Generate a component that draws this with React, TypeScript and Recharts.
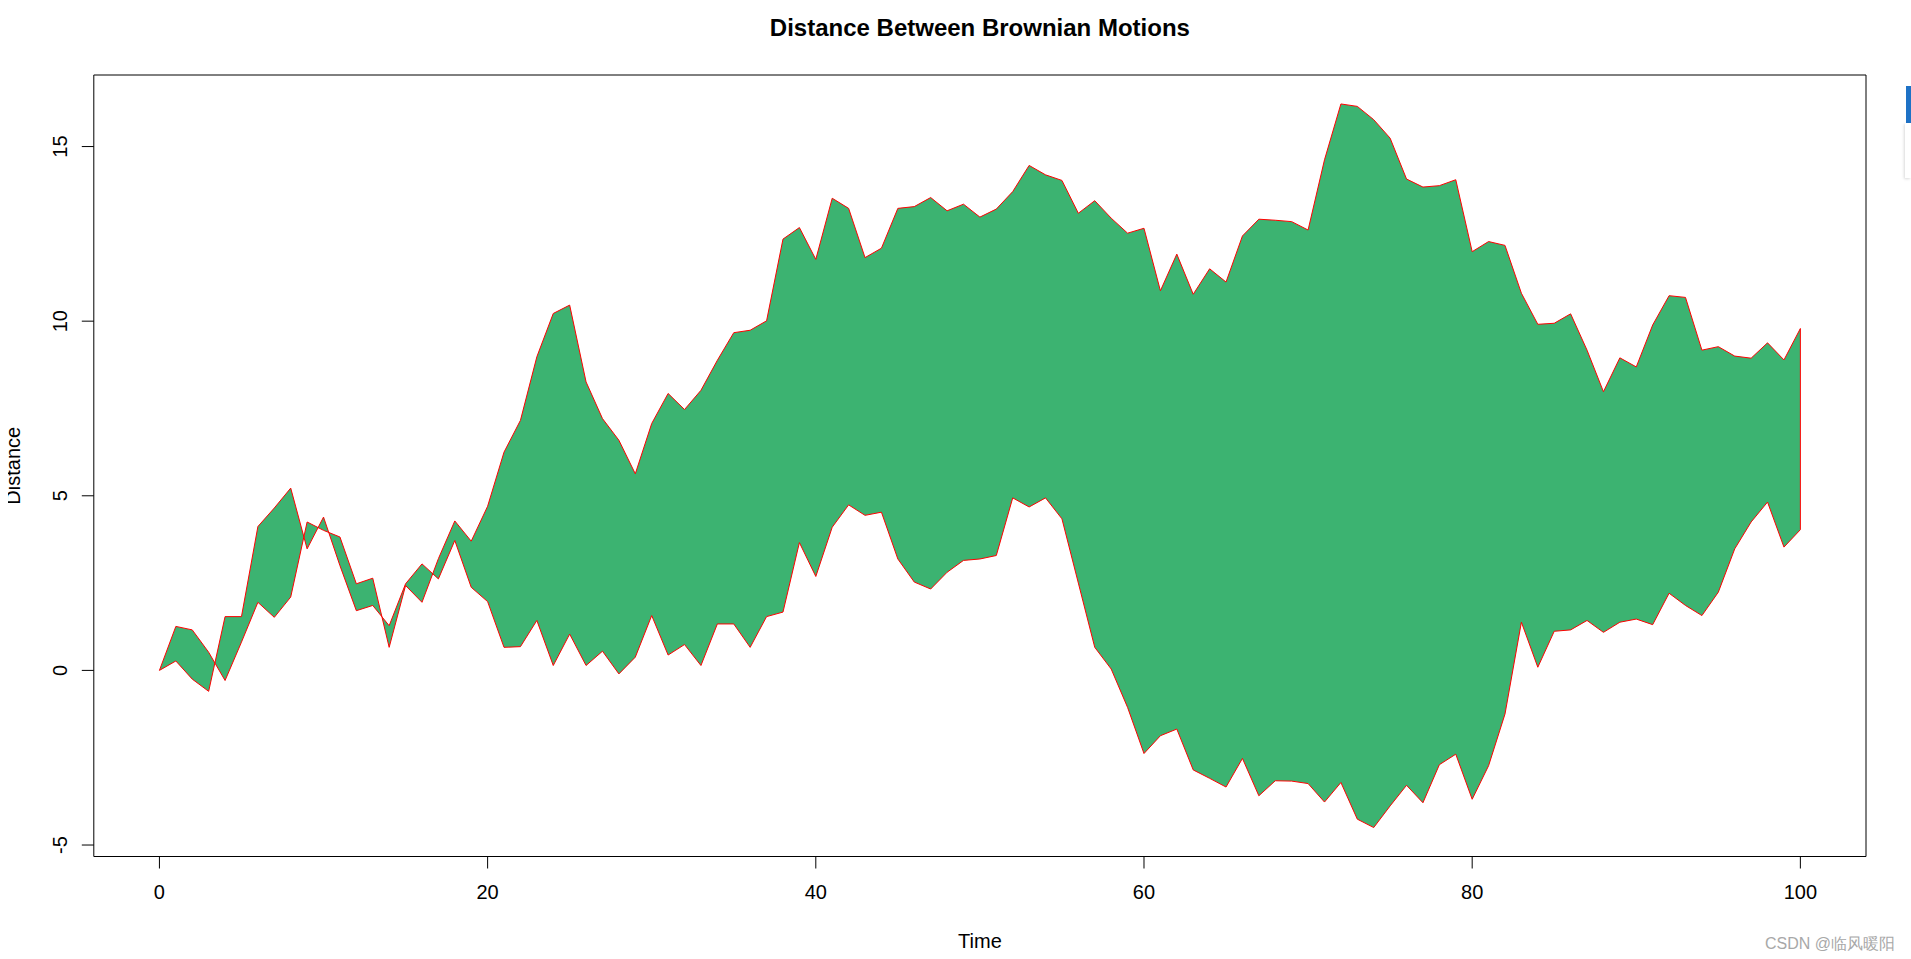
import { ComposedChart, Area, XAxis, YAxis, ReferenceArea, ReferenceLine } from "recharts"

const time = [
  0, 1, 2, 3, 4, 5, 6, 7, 8, 9, 10, 11, 12, 13, 14, 15, 16, 17, 18, 19, 20,
  21, 22, 23, 24, 25, 26, 27, 28, 29, 30, 31, 32, 33, 34, 35, 36, 37, 38, 39, 40,
  41, 42, 43, 44, 45, 46, 47, 48, 49, 50, 51, 52, 53, 54, 55, 56, 57, 58, 59, 60,
  61, 62, 63, 64, 65, 66, 67, 68, 69, 70, 71, 72, 73, 74, 75, 76, 77, 78, 79, 80,
  81, 82, 83, 84, 85, 86, 87, 88, 89, 90, 91, 92, 93, 94, 95, 96, 97, 98, 99, 100,
]

// first brownian path
const motionA = [
  0, 1.26, 1.16, 0.52, -0.29, 0.81, 1.95, 1.52, 2.1, 4.25, 4.01,
  3.82, 2.48, 2.64, 0.66, 2.43, 1.95, 3.2, 4.28, 3.7, 4.7,
  6.25, 7.16, 8.98, 10.22, 10.46, 8.26, 7.21, 6.59, 5.63, 7.07,
  7.93, 7.47, 8.02, 8.88, 9.67, 9.74, 10.01, 12.35, 12.68, 11.77,
  13.52, 13.23, 11.82, 12.09, 13.23, 13.28, 13.54, 13.16, 13.35, 12.98,
  13.21, 13.71, 14.46, 14.19, 14.03, 13.09, 13.45, 12.95, 12.52, 12.66,
  10.87, 11.92, 10.77, 11.5, 11.12, 12.44, 12.92, 12.89, 12.85, 12.61,
  14.62, 16.22, 16.15, 15.77, 15.24, 14.07, 13.84, 13.88, 14.05, 11.99,
  12.28, 12.17, 10.8, 9.91, 9.94, 10.21, 9.17, 7.98, 8.95, 8.69,
  9.89, 10.73, 10.68, 9.17, 9.27, 9.0, 8.94, 9.38, 8.89, 9.79,
]

// second brownian path
const motionB = [
  0, 0.27, -0.25, -0.6, 1.54, 1.54, 4.12, 4.65, 5.22, 3.48, 4.39,
  3.0, 1.71, 1.86, 1.28, 2.48, 3.05, 2.62, 3.72, 2.38, 1.97,
  0.66, 0.68, 1.43, 0.14, 1.04, 0.14, 0.55, -0.1, 0.38, 1.57,
  0.44, 0.74, 0.14, 1.33, 1.33, 0.66, 1.54, 1.67, 3.66, 2.69,
  4.1, 4.74, 4.44, 4.53, 3.19, 2.53, 2.33, 2.81, 3.15, 3.19,
  3.29, 4.94, 4.68, 4.94, 4.34, 2.5, 0.66, 0.04, -1.06, -2.38,
  -1.87, -1.68, -2.85, -3.09, -3.34, -2.52, -3.59, -3.16, -3.17, -3.24,
  -3.77, -3.21, -4.26, -4.5, -3.88, -3.29, -3.79, -2.7, -2.4, -3.69,
  -2.73, -1.25, 1.38, 0.09, 1.12, 1.16, 1.43, 1.09, 1.38, 1.47,
  1.31, 2.21, 1.86, 1.57, 2.24, 3.48, 4.25, 4.82, 3.53, 4.03,
]

const xTicks = [0, 20, 40, 60, 80, 100]
const yTicks = [-5, 0, 5, 10, 15]

const data = time.map((t, i) => ({ t, range: [motionB[i], motionA[i]] }))

// R pads both axes by 4% of the data range
function padRange(vals: number[]): [number, number] {
  const lo = Math.min(...vals)
  const hi = Math.max(...vals)
  const pad = (hi - lo) * 0.04
  return [lo - pad, hi + pad]
}
const xDomain = padRange(time)
const yDomain = padRange([...motionA, ...motionB])

const FONT = '"Liberation Sans", Arial, sans-serif'
const W = 1895
const H = 943
const PLOT = { left: 85.8, top: 67, right: 1858, bottom: 848.5 }
const last = time.length - 1

function YTick({ y, payload }: any) {
  return (
    <g transform={`translate(52, ${y}) rotate(-90)`}>
      <text x={0} y={7} textAnchor="middle" fontSize={20} fontFamily={FONT} fill="#000">
        {payload.value}
      </text>
    </g>
  )
}

export default function App() {
  const midX = (PLOT.left + PLOT.right) / 2
  const midY = (PLOT.top + PLOT.bottom) / 2
  return (
    <div style={{ position: "relative", width: W, height: H }}>
      <ComposedChart
        width={W}
        height={H}
        data={data}
        margin={{ top: PLOT.top, right: W - PLOT.right, bottom: 0, left: 0 }}
      >
        <XAxis
          dataKey="t"
          type="number"
          domain={xDomain}
          ticks={xTicks}
          interval={0}
          allowDataOverflow
          axisLine={false}
          tickLine={{ stroke: "#000" }}
          tickSize={12}
          tickMargin={16}
          height={H - PLOT.bottom}
          tick={{ fill: "#000", fontSize: 20, fontFamily: FONT }}
        />
        <YAxis
          type="number"
          domain={yDomain}
          ticks={yTicks}
          interval={0}
          allowDataOverflow
          width={PLOT.left}
          axisLine={false}
          tickLine={{ stroke: "#000" }}
          tickSize={12}
          tick={(p: any) => <YTick {...p} />}
        />
        <Area
          dataKey="range"
          type="linear"
          fill="#3CB371"
          fillOpacity={1}
          stroke="#FF0000"
          strokeWidth={1}
          dot={false}
          activeDot={false}
          isAnimationActive={false}
        />
        <ReferenceLine
          segment={[
            { x: time[last], y: motionB[last] },
            { x: time[last], y: motionA[last] },
          ]}
          stroke="#FF0000"
          strokeWidth={1}
        />
        <ReferenceArea
          x1={xDomain[0]}
          x2={xDomain[1]}
          y1={yDomain[0]}
          y2={yDomain[1]}
          fill="none"
          stroke="#000"
          strokeWidth={1}
          ifOverflow="visible"
        />
      </ComposedChart>
      {/* overlay shifted 8px left so the rotated y label can sit in the body margin */}
      <svg
        width={W + 8}
        height={H}
        style={{ position: "absolute", left: -8, top: 0, pointerEvents: "none" }}
      >
        <g transform="translate(8, 0)">
          <text x={midX} y={28} textAnchor="middle" fontSize={24} fontWeight="bold" fontFamily={FONT} fill="#000">
            Distance Between Brownian Motions
          </text>
          <text x={midX} y={940} textAnchor="middle" fontSize={20} fontFamily={FONT} fill="#000">
            Time
          </text>
          <text
            x={12}
            y={midY}
            transform={`rotate(-90 12 ${midY})`}
            textAnchor="middle"
            fontSize={20}
            fontFamily={FONT}
            fill="#000"
          >
            Distance
          </text>
          <text x={1887} y={941} textAnchor="end" fontSize={16} fontFamily={FONT} fill="#a8a8a8">
            CSDN @临风暖阳
          </text>
        </g>
      </svg>
      {/* small window-edge widget seen at the top right of the screenshot */}
      <div style={{ position: "fixed", right: 0, top: 86, width: 5, height: 37, background: "#1e72c6" }} />
      <div
        style={{
          position: "fixed",
          right: 0,
          top: 123,
          width: 6,
          height: 55,
          background: "#fff",
          boxShadow: "-1px 1px 3px rgba(0,0,0,0.15)",
        }}
      />
    </div>
  )
}
